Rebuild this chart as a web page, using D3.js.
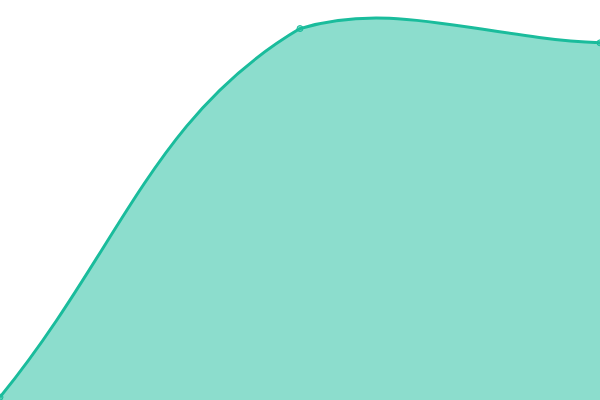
<!DOCTYPE html>
<html>
<head>
<meta charset="utf-8">
<script src="https://cdn.jsdelivr.net/npm/d3@7"></script>
<style>
  body { margin: 0; background: #fff; }
  svg { display: block; }
</style>
</head>
<body>
<script>
const labels = ['1', '2', '3'];
const values = [1, 130, 125];
const yDomain = [0, 140];

const width = 600;
const height = 400;
const lineColor = '#1abc9c';
const fillColor = 'rgba(26, 188, 156, 0.5)';

// spline like the one chart.js uses (tension 0.4, control points capped to the plot area)
class SplineCurve {
  constructor(context, w, h, tension) {
    this._context = context;
    this._w = w;
    this._h = h;
    this._t = tension;
  }
  areaStart() { this._line = 0; }
  areaEnd() { this._line = NaN; }
  lineStart() { this._pts = []; }
  point(x, y) { this._pts.push([+x, +y]); }
  lineEnd() {
    const p = this._pts, n = p.length, ctx = this._context;
    const w = this._w, h = this._h, t = this._t;
    if (n) {
      if (this._line) ctx.lineTo(p[0][0], p[0][1]);
      else ctx.moveTo(p[0][0], p[0][1]);

      const cps = p.map((cur, i) => {
        const prev = p[i - 1] || cur;
        const next = p[i + 1] || cur;
        const d01 = Math.hypot(cur[0] - prev[0], cur[1] - prev[1]);
        const d12 = Math.hypot(next[0] - cur[0], next[1] - cur[1]);
        let s01 = d01 / (d01 + d12);
        let s12 = d12 / (d01 + d12);
        if (isNaN(s01)) s01 = 0;
        if (isNaN(s12)) s12 = 0;
        const fa = t * s01, fb = t * s12;
        const cp = {
          px: cur[0] - fa * (next[0] - prev[0]),
          py: cur[1] - fa * (next[1] - prev[1]),
          nx: cur[0] + fb * (next[0] - prev[0]),
          ny: cur[1] + fb * (next[1] - prev[1])
        };
        const inside = cur[0] >= 0 && cur[0] <= w && cur[1] >= 0 && cur[1] <= h;
        if (inside) {
          cp.px = Math.max(0, Math.min(w, cp.px));
          cp.nx = Math.max(0, Math.min(w, cp.nx));
          cp.py = Math.max(0, Math.min(h, cp.py));
          cp.ny = Math.max(0, Math.min(h, cp.ny));
        }
        return cp;
      });

      for (let i = 1; i < n; i++) {
        ctx.bezierCurveTo(cps[i - 1].nx, cps[i - 1].ny, cps[i].px, cps[i].py, p[i][0], p[i][1]);
      }
    }
    if (this._line || (this._line !== 0 && n === 1)) ctx.closePath();
    this._line = 1 - this._line;
  }
}

const curveChart = context => new SplineCurve(context, width, height, 0.4);

const data = labels.map((l, i) => ({ label: l, value: values[i] }));

const x = d3.scalePoint()
  .domain(labels)
  .range([0, width]);

const y = d3.scaleLinear()
  .domain(yDomain)
  .range([height, 0]);

const svg = d3.select('body').append('svg')
  .attr('width', width)
  .attr('height', height);

const area = d3.area()
  .x(d => x(d.label))
  .y0(y(yDomain[0]))
  .y1(d => y(d.value))
  .curve(curveChart);

const line = d3.line()
  .x(d => x(d.label))
  .y(d => y(d.value))
  .curve(curveChart);

svg.append('path')
  .datum(data)
  .attr('d', area)
  .attr('fill', fillColor);

svg.append('path')
  .datum(data)
  .attr('d', line)
  .attr('fill', 'none')
  .attr('stroke', lineColor)
  .attr('stroke-width', 3);

svg.selectAll('circle')
  .data(data)
  .enter().append('circle')
    .attr('cx', d => x(d.label))
    .attr('cy', d => y(d.value))
    .attr('r', 3)
    .attr('fill', fillColor)
    .attr('stroke', lineColor)
    .attr('stroke-width', 1);
</script>
</body>
</html>
